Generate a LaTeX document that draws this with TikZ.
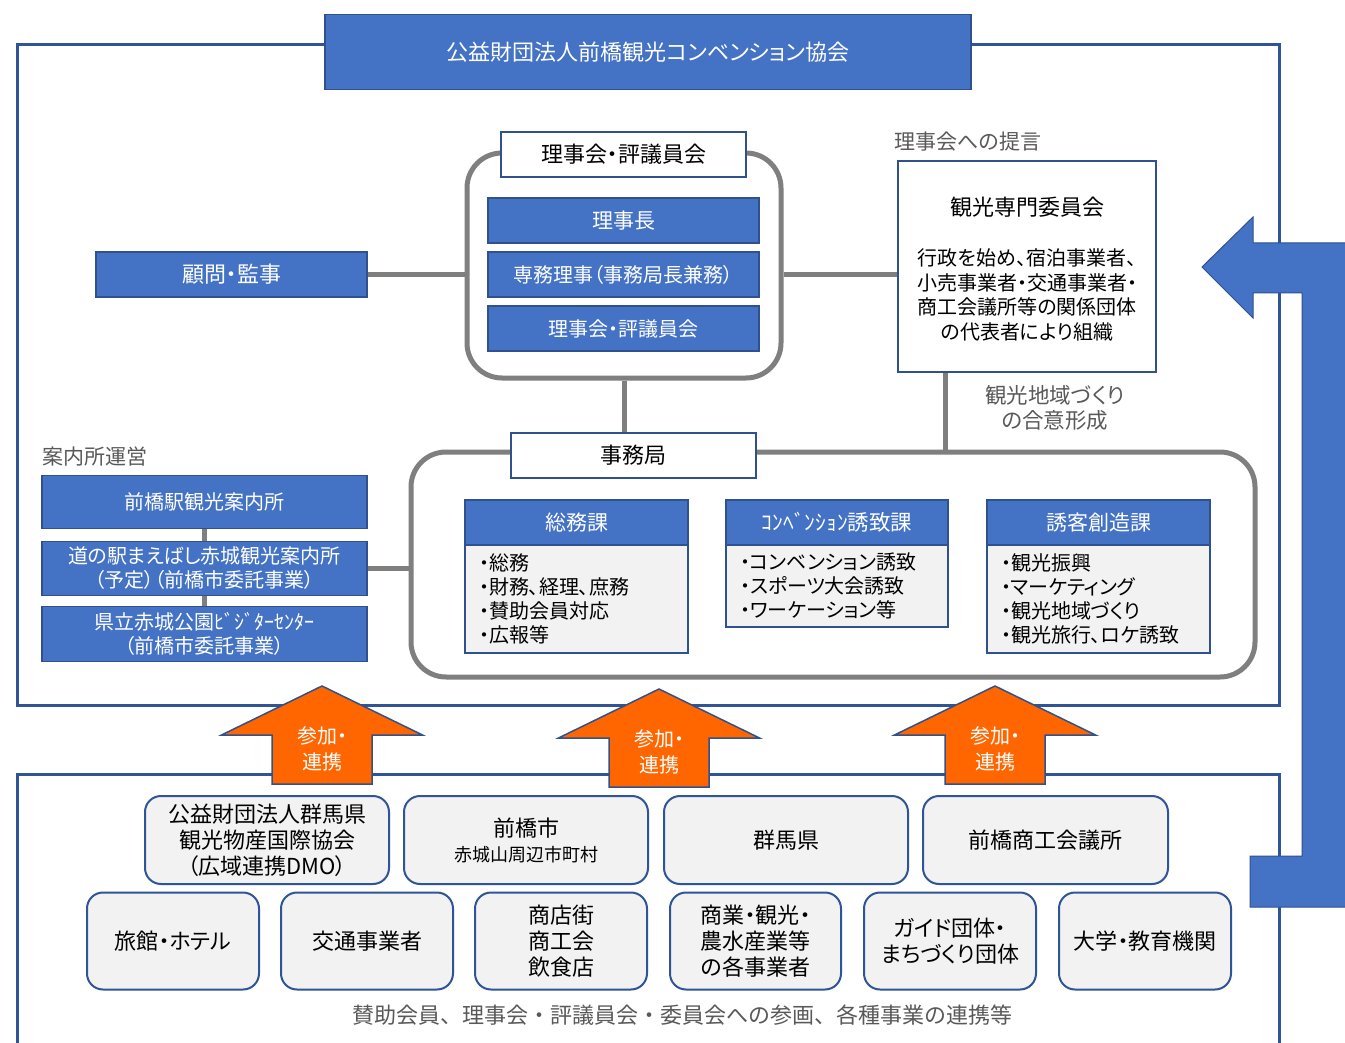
\documentclass[tikz,border=0pt]{standalone}
\usepackage{fontspec}
\setmainfont{Noto Sans CJK JP}[RawFeature=+palt]
\usetikzlibrary{calc}
\definecolor{bfill}{HTML}{4472C4}
\definecolor{bline}{HTML}{2F528F}
\definecolor{frame}{HTML}{2F5597}
\definecolor{gconn}{HTML}{7F7F7F}
\definecolor{lgray}{HTML}{F2F2F2}
\definecolor{orng}{HTML}{FF6600}
\definecolor{txtgray}{HTML}{595959}
\tikzset{
  fsz/.style={font=\fontsize{#1}{#1}\selectfont},
  bluebox/.style={draw=bline, line width=1.5pt, fill=bfill, text=white, inner sep=0pt, align=center},
  whitebox/.style={draw=bline, line width=1.5pt, fill=white, inner sep=0pt, align=center},
  listbox/.style={draw=bline, line width=1.5pt, fill=lgray, inner sep=0pt, align=left},
  grp/.style={draw=gconn, line width=5pt, rounded corners=35pt, inner sep=0pt},
  conn/.style={draw=gconn, line width=5pt},
  orgbox/.style={draw=frame, line width=2pt, fill=lgray, rounded corners=16pt, align=center, inner sep=0pt},
  framepath/.style={draw=frame, line width=3pt},
  oarrow/.style={fill=orng, draw=bline, line width=1.5pt, line join=miter},
  barrow/.style={fill=bfill, draw=bline, line width=1pt},
  glabel/.style={text=txtgray, inner sep=0pt, align=center},
}
\begin{document}
\begin{tikzpicture}[x=1pt,y=-1pt]
\useasboundingbox[fill=white] (0,0) rectangle (1345,1043);
% frames
\draw[framepath] (17,45) rectangle (1279,705);
\coordinate (lfl) at (17,1045);
\coordinate (lfr) at (1279,1045);
\draw[framepath] (lfl) -- (17,774) -- (1279,774) -- (lfr);
% title
\node[bluebox, fsz=22, minimum width=646, minimum height=75] (title) at (648,52) {公益財団法人前橋観光コンベンション協会};
% board group
\node[grp, minimum width=314, minimum height=225] (board) at (624,265.5) {};
\node[whitebox, fsz=22, minimum width=245, minimum height=45] (boardh) at (623.5,154.5) {理事会・評議員会};
\node[bluebox, fsz=21, minimum width=271, minimum height=45] (rijicho) at (623.5,220.5) {理事長};
\node[bluebox, fsz=20, minimum width=271, minimum height=45] (senmu) at (623.5,274.5) {専務理事（事務局長兼務）};
\node[bluebox, fsz=20, minimum width=271, minimum height=45] (rijikai) at (623.5,328.5) {理事会・評議員会};
% komon
\node[bluebox, fsz=22, minimum width=271, minimum height=45] (komon) at (231.5,274.5) {顧問・監事};
% committee
\node[whitebox, minimum width=258, minimum height=211] (kanko) at (1027,266.5) {};
\node[inner sep=0pt, fsz=22] (kankoT) at (1027,207) {観光専門委員会};
\node[inner sep=0pt, align=center, font=\fontsize{20}{24.5}\selectfont] (kankoB) at (1027,295) {行政を始め、宿泊事業者、\\小売事業者・交通事業者・\\商工会議所等の関係団体\\の代表者により組織};
\node[glabel, fsz=21] (teigen) at (968,142) {理事会への提言};
% secretariat group
\node[grp, minimum width=844, minimum height=225] (sec) at (833,564.5) {};
\node[whitebox, fsz=22, minimum width=245, minimum height=45] (jimu) at (633.5,455.5) {事務局};
\node[bluebox, fsz=21, minimum width=223, minimum height=45] (soumuH) at (576.5,522.5) {総務課};
\node[listbox, font=\fontsize{20}{24}\selectfont, minimum width=223, minimum height=108, text width=195] (soumuB) at (576.5,599) {・総務\\・財務、経理、庶務\\・賛助会員対応\\・広報等};
\node[bluebox, fsz=21.5, minimum width=222, minimum height=45] (convH) at (837,522.5) {ｺﾝﾍﾞﾝｼｮﾝ誘致課};
\node[listbox, font=\fontsize{20}{24}\selectfont, minimum width=222, minimum height=82, text width=194] (convB) at (837,586) {・コンベンション誘致\\・スポーツ大会誘致\\・ワーケーション等};
\node[bluebox, fsz=21, minimum width=223, minimum height=45] (yukH) at (1098.5,522.5) {誘客創造課};
\node[listbox, font=\fontsize{20}{24}\selectfont, minimum width=223, minimum height=108, text width=195] (yukB) at (1098.5,599) {・観光振興\\・マーケティング\\・観光地域づくり\\・観光旅行、ロケ誘致};
\node[glabel, align=center, font=\fontsize{21.5}{25}\selectfont] (goi) at (1055,408) {観光地域づくり\\の合意形成};
% info centers
\node[glabel, fsz=21] (annai) at (95,457) {案内所運営};
\node[bluebox, fsz=20, minimum width=325, minimum height=53] (eki) at (204.5,502) {前橋駅観光案内所};
\node[bluebox, font=\fontsize{20}{24}\selectfont, minimum width=325, minimum height=54] (michi) at (204.5,568.5) {道の駅まえばし赤城観光案内所\\（予定）（前橋市委託事業）};
\node[bluebox, font=\fontsize{20}{24}\selectfont, minimum width=325, minimum height=55] (kenritsu) at (204.5,634) {県立赤城公園ﾋﾞｼﾞﾀｰｾﾝﾀｰ\\（前橋市委託事業）};
% bottom org boxes
\node[orgbox, font=\fontsize{22}{26}\selectfont, minimum width=244, minimum height=88] (dmo) at (267,840) {公益財団法人群馬県\\観光物産国際協会\\（広域連携DMO）};
\node[orgbox, font=\fontsize{18}{25}\selectfont, minimum width=244, minimum height=88] (maebashi) at (526,840) {{\fontsize{22}{25}\selectfont 前橋市}\\赤城山周辺市町村};
\node[orgbox, fsz=22, minimum width=244, minimum height=88] (gunma) at (786,840) {群馬県};
\node[orgbox, fsz=22, minimum width=245, minimum height=88] (shoko) at (1045.5,840) {前橋商工会議所};
\node[orgbox, fsz=22, minimum width=172, minimum height=97] (ryokan) at (173,941) {旅館・ホテル};
\node[orgbox, fsz=22, minimum width=172, minimum height=97] (kotsu) at (367,941) {交通事業者};
\node[orgbox, font=\fontsize{22}{26}\selectfont, minimum width=172, minimum height=97] (shoten) at (561,941) {商店街\\商工会\\飲食店};
\node[orgbox, font=\fontsize{22}{26}\selectfont, minimum width=171, minimum height=97] (shogyo) at (755.5,941) {商業・観光・\\農水産業等\\の各事業者};
\node[orgbox, font=\fontsize{22}{26}\selectfont, minimum width=172, minimum height=97] (guide) at (950,941) {ガイド団体・\\まちづくり団体};
\node[orgbox, fsz=22, minimum width=172, minimum height=97] (daigaku) at (1145,941) {大学・教育機関};
\node[glabel, font=\fontsize{22}{25}\selectfont\addfontfeature{RawFeature=-palt}] (caption) at (682,1015) {賛助会員、理事会・評議員会・委員会への参画、各種事業の連携等};
% orange arrows
\coordinate (a1) at (322,686);
\coordinate (a2) at (659,689);
\coordinate (a3) at (995,686);
\foreach \a in {a1,a2,a3}{
  \draw[oarrow] (\a) -- ++(100.5,49) -- ++(-50.5,0) -- ++(0,49) -- ++(-100,0) -- ++(0,-49) -- ++(-50.5,0) -- cycle;
}
\node[text=white, align=center, inner sep=0pt, font=\fontsize{20}{26}\selectfont] (t1) at ($(a1)+(0,63)$) {参加・\\連携};
\node[text=white, align=center, inner sep=0pt, font=\fontsize{20}{26}\selectfont] (t2) at ($(a2)+(0,63)$) {参加・\\連携};
\node[text=white, align=center, inner sep=0pt, font=\fontsize{20}{26}\selectfont] (t3) at ($(a3)+(0,63)$) {参加・\\連携};
% big blue arrow
\coordinate (btip) at (1202,267);
\draw[barrow] (btip) -- (1253,217) -- (1253,243) -- (1347,243) -- (1347,907) -- (1250,907) -- (1250,856) -- (1302,856) -- (1302,293) -- (1253,293) -- (1253,318) -- cycle;
% connectors
\coordinate (kx) at (945,0);
\draw[conn] (komon.east) -- (komon.east -| board.west);
\draw[conn] (senmu.east -| board.east) -- (senmu.east -| kanko.west);
\draw[conn] (board.south) -- (board.south |- jimu.north);
\draw[conn] (kanko.south -| kx) -- (sec.north -| kx);
\draw[conn] (eki.south) -- (michi.north);
\draw[conn] (michi.south) -- (kenritsu.north);
\draw[conn] (michi.east) -- (michi.east -| sec.west);
\end{tikzpicture}
\end{document}
